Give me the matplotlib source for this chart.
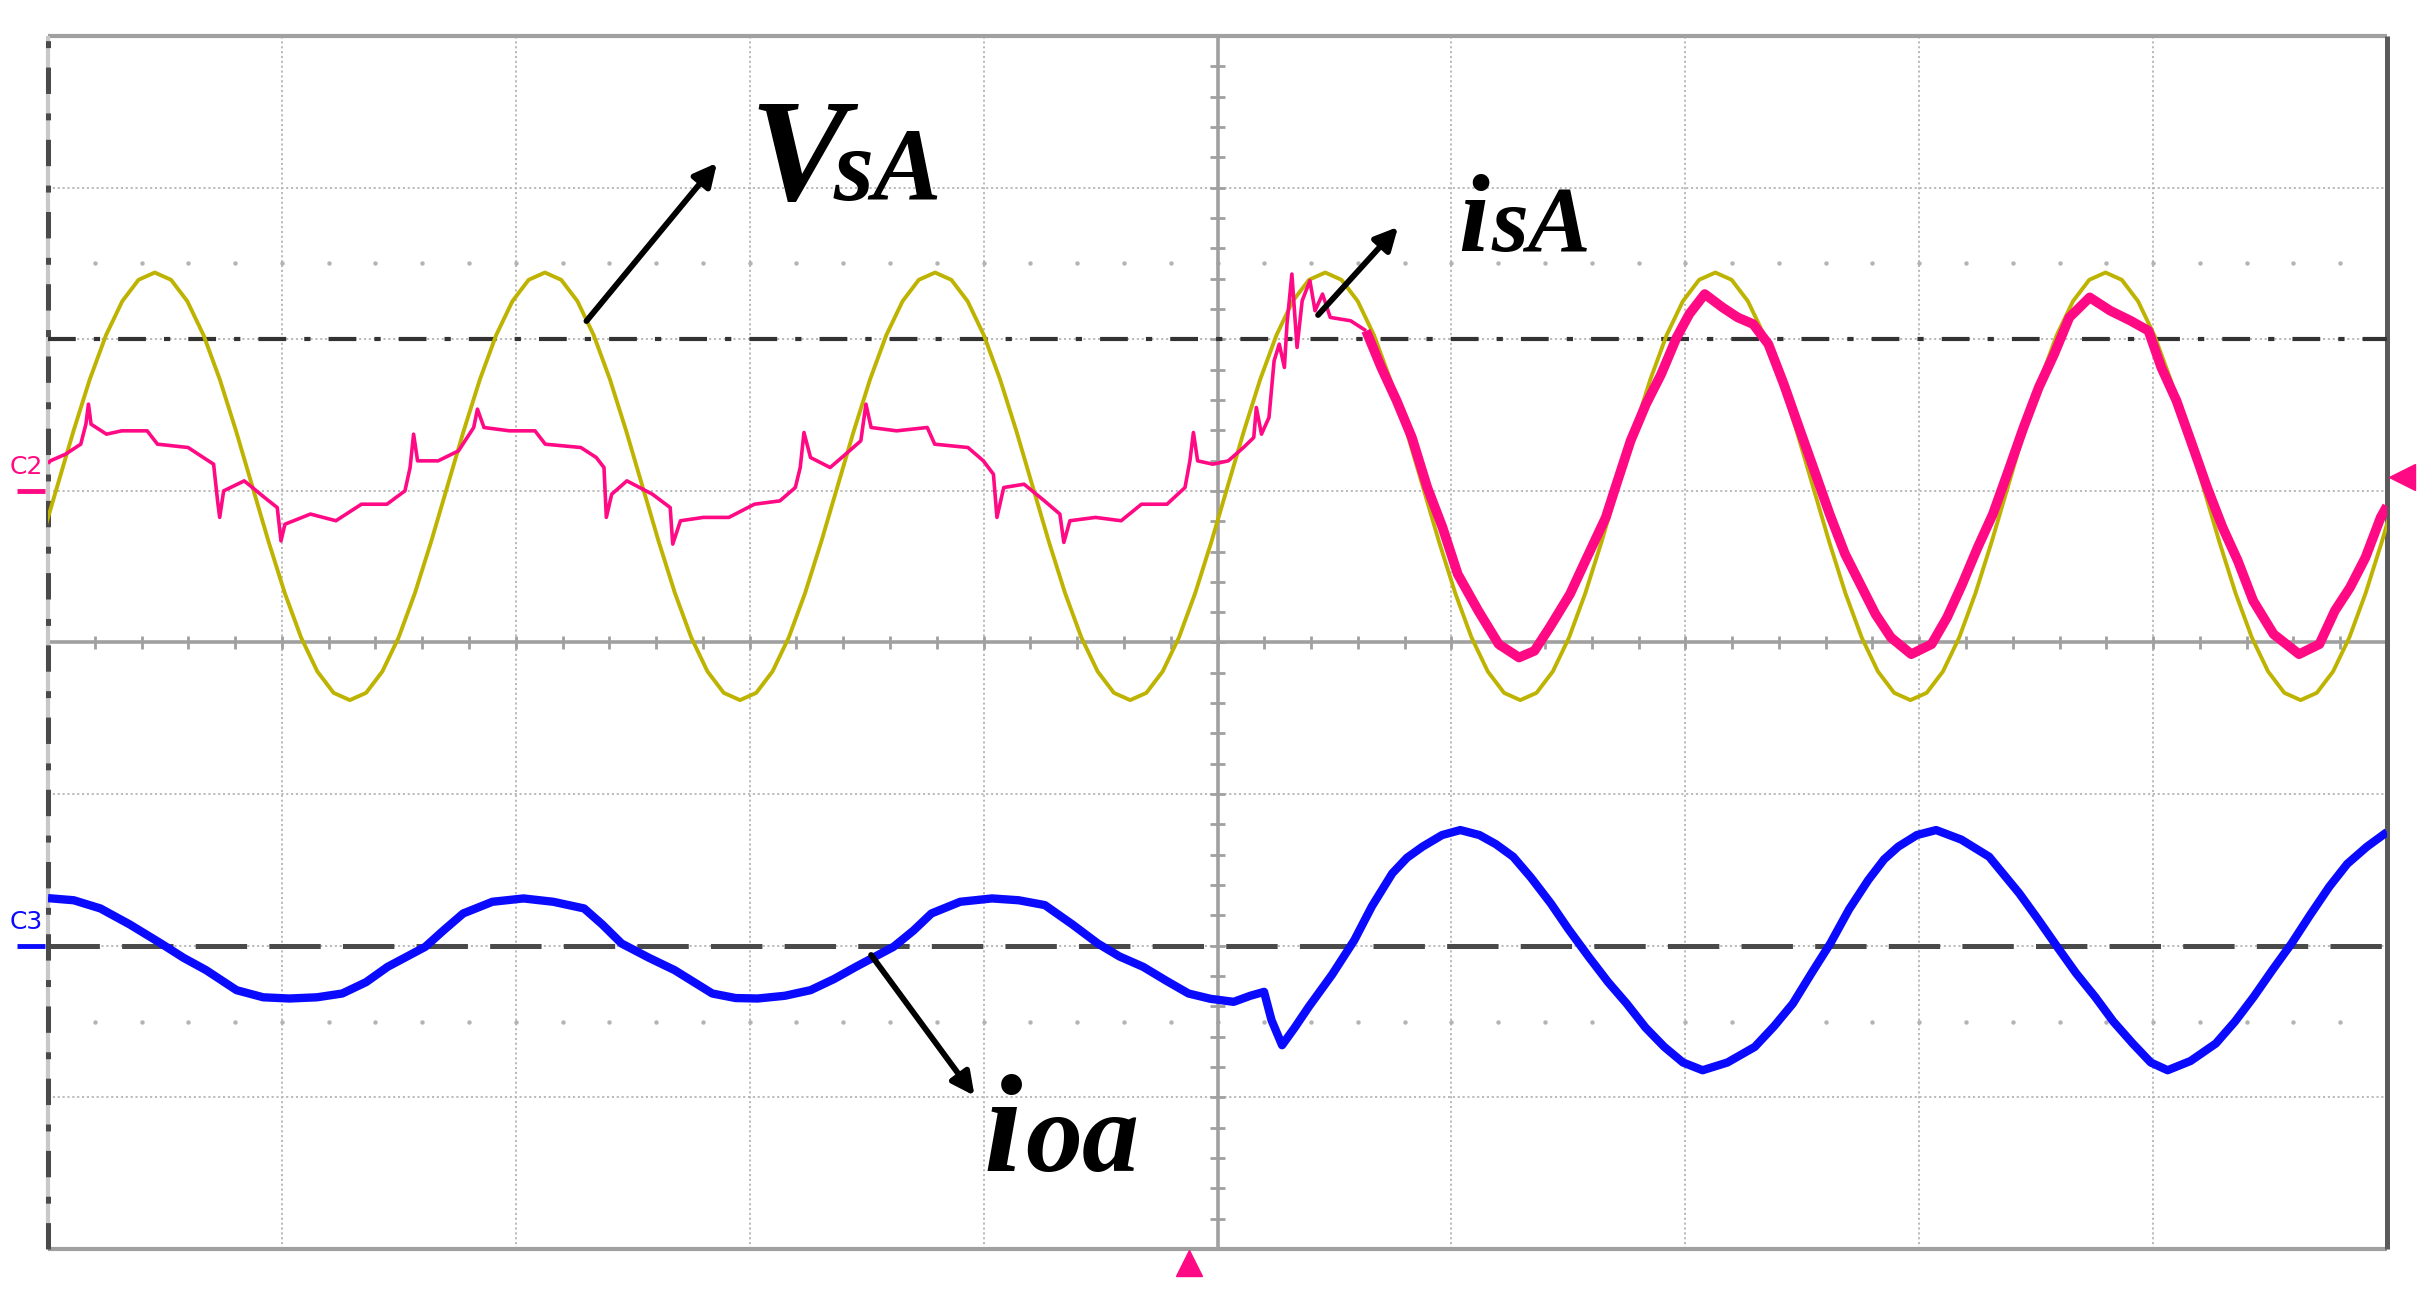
import matplotlib.pyplot as plt
import numpy as np

plt.rcParams["lines.scale_dashes"] = False
plt.rcParams["lines.solid_capstyle"] = "butt"

YELLOW = "#bdb300"
PINK = "#ff0a84"
BLUE = "#0a0aff"
GRID = "#b4b4b4"
AXIS = "#a0a0a0"
DARK = "#4a4a4a"

# screen is 10 x 8 divisions, centre at (5, 0)

# vsA sampled by the scope every VSA_DT div, first sample at VSA_T0
VSA_T0 = -0.03
VSA_DT = 0.0695
VSA = [
    0.665, 1.03, 1.395, 1.735, 2.027, 2.251, 2.392, 2.44, 2.392, 2.251, 2.027, 1.735,
    1.395, 1.03, 0.665, 0.325, 0.033, -0.191, -0.332, -0.38, -0.332, -0.191, 0.033, 0.325,
    0.665, 1.03, 1.395, 1.735, 2.027, 2.251, 2.392, 2.44, 2.392, 2.251, 2.027, 1.735,
    1.395, 1.03, 0.665, 0.325, 0.033, -0.191, -0.332, -0.38, -0.332, -0.191, 0.033, 0.325,
    0.665, 1.03, 1.395, 1.735, 2.027, 2.251, 2.392, 2.44, 2.392, 2.251, 2.027, 1.735,
    1.395, 1.03, 0.665, 0.325, 0.033, -0.191, -0.332, -0.38, -0.332, -0.191, 0.033, 0.325,
    0.665, 1.03, 1.395, 1.735, 2.027, 2.251, 2.392, 2.44, 2.392, 2.251, 2.027, 1.735,
    1.395, 1.03, 0.665, 0.325, 0.033, -0.191, -0.332, -0.38, -0.332, -0.191, 0.033, 0.325,
    0.665, 1.03, 1.395, 1.735, 2.027, 2.251, 2.392, 2.44, 2.392, 2.251, 2.027, 1.735,
    1.395, 1.03, 0.665, 0.325, 0.033, -0.191, -0.332, -0.38, -0.332, -0.191, 0.033, 0.325,
    0.665, 1.03, 1.395, 1.735, 2.027, 2.251, 2.392, 2.44, 2.392, 2.251, 2.027, 1.735,
    1.395, 1.03, 0.665, 0.325, 0.033, -0.191, -0.332, -0.38, -0.332, -0.191, 0.033, 0.325,
    0.665, 1.03,
]

# isA before compensation (thin trace)
ISA_X1 = [0.0, 0.01, 0.075, 0.14, 0.162, 0.173, 0.184, 0.25, 0.315, 0.424,
          0.468, 0.599, 0.664, 0.708, 0.725, 0.734, 0.751, 0.839, 0.926, 0.98,
          0.996, 1.013, 1.122, 1.231, 1.34, 1.449, 1.526, 1.548, 1.563, 1.58,
          1.668, 1.755, 1.82, 1.836, 1.864, 1.973, 2.082, 2.126, 2.278, 2.344,
          2.377, 2.387, 2.41, 2.475, 2.584, 2.66, 2.671, 2.704, 2.802, 2.911,
          3.02, 3.129, 3.195, 3.216, 3.232, 3.26, 3.344, 3.41, 3.475, 3.497,
          3.519, 3.628, 3.759, 3.791, 3.933, 3.999, 4.042, 4.057, 4.086, 4.173,
          4.26, 4.326, 4.343, 4.369, 4.478, 4.588, 4.675, 4.784, 4.861, 4.882,
          4.897, 4.915, 4.98, 5.046, 5.111, 5.155, 5.166, 5.188, 5.22, 5.242,
          5.264, 5.286, 5.297, 5.318, 5.34, 5.362, 5.395, 5.417, 5.449, 5.482,
          5.569, 5.635]
ISA_Y1 = [1.18, 1.198, 1.242, 1.308, 1.44, 1.572, 1.44, 1.374, 1.396, 1.396,
          1.308, 1.286, 1.22, 1.176, 0.934, 0.825, 1.0, 1.066, 0.956, 0.89,
          0.67, 0.78, 0.847, 0.803, 0.912, 0.912, 1.0, 1.154, 1.374, 1.198,
          1.198, 1.264, 1.418, 1.539, 1.418, 1.396, 1.396, 1.308, 1.286, 1.22,
          1.154, 0.825, 0.978, 1.066, 0.978, 0.89, 0.649, 0.803, 0.825, 0.825,
          0.912, 0.934, 1.022, 1.154, 1.385, 1.22, 1.154, 1.242, 1.33, 1.572,
          1.418, 1.396, 1.418, 1.308, 1.286, 1.198, 1.11, 0.825, 1.022, 1.044,
          0.934, 0.847, 0.66, 0.803, 0.825, 0.803, 0.912, 0.912, 1.022, 1.198,
          1.385, 1.198, 1.176, 1.198, 1.286, 1.352, 1.55, 1.374, 1.484, 1.858,
          1.968, 1.814, 2.1, 2.43, 1.946, 2.254, 2.386, 2.188, 2.298, 2.144,
          2.122, 2.056]

# isA after compensation (noisy, thick trace)
ISA_X2 = [5.635, 5.70, 5.766, 5.831, 5.897, 5.962, 6.027, 6.115, 6.202, 6.289,
          6.355, 6.42, 6.507, 6.573, 6.66, 6.701, 6.766, 6.832, 6.897, 6.963,
          7.017, 7.083, 7.159, 7.224, 7.29, 7.355, 7.421, 7.486, 7.552, 7.617,
          7.683, 7.748, 7.813, 7.879, 7.966, 8.053, 8.119, 8.184, 8.25, 8.315,
          8.381, 8.446, 8.511, 8.577, 8.642, 8.729, 8.817, 8.904, 8.98, 9.035,
          9.1, 9.166, 9.231, 9.297, 9.362, 9.428, 9.515, 9.624, 9.711, 9.777,
          9.842, 9.908, 9.973, 10.0]
ISA_Y2 = [2.056, 1.814, 1.594, 1.352, 1.022, 0.759, 0.451, 0.209, -0.011, -0.099,
          -0.055, 0.099, 0.319, 0.539, 0.825, 1.022, 1.33, 1.572, 1.77, 2.012,
          2.166, 2.298, 2.21, 2.144, 2.1, 1.968, 1.704, 1.418, 1.132, 0.847,
          0.583, 0.385, 0.187, 0.033, -0.077, -0.011, 0.165, 0.385, 0.627, 0.847,
          1.132, 1.418, 1.682, 1.902, 2.144, 2.276, 2.188, 2.122, 2.056, 1.814,
          1.594, 1.308, 1.022, 0.759, 0.539, 0.275, 0.055, -0.077, -0.011, 0.209,
          0.363, 0.561, 0.825, 0.9]

# ioa load current
IOA_X = [0.0, 0.11, 0.224, 0.35, 0.483, 0.58, 0.676, 0.806, 0.92, 1.032,
         1.15, 1.258, 1.36, 1.452, 1.613, 1.69, 1.775, 1.90, 2.033, 2.16,
         2.292, 2.37, 2.452, 2.57, 2.679, 2.840, 2.94, 3.034, 3.15, 3.260,
         3.36, 3.454, 3.615, 3.70, 3.777, 3.90, 4.036, 4.15, 4.262, 4.38,
         4.488, 4.58, 4.682, 4.78, 4.876, 4.97, 5.069, 5.14, 5.199, 5.231,
         5.276, 5.33, 5.39, 5.49, 5.585, 5.66, 5.747, 5.81, 5.876, 5.96,
         6.038, 6.12, 6.19, 6.264, 6.34, 6.425, 6.50, 6.587, 6.67, 6.749,
         6.83, 6.910, 6.99, 7.074, 7.18, 7.297, 7.38, 7.46, 7.54, 7.62,
         7.70, 7.782, 7.85, 7.91, 7.99, 8.072, 8.18, 8.299, 8.428, 8.51,
         8.59, 8.67, 8.752, 8.83, 8.913, 8.99, 9.062, 9.16, 9.268, 9.35,
         9.43, 9.51, 9.592, 9.67, 9.753, 9.83, 9.914, 10.0]
IOA_Y = [-1.686, -1.70, -1.754, -1.86, -1.985, -2.08, -2.161, -2.293, -2.34, -2.348,
         -2.34, -2.315, -2.24, -2.139, -2.007, -1.90, -1.787, -1.71, -1.688, -1.71,
         -1.754, -1.86, -1.985, -2.08, -2.161, -2.315, -2.345, -2.348, -2.33, -2.293,
         -2.22, -2.139, -2.007, -1.90, -1.787, -1.71, -1.688, -1.70, -1.732, -1.86,
         -1.985, -2.07, -2.139, -2.23, -2.315, -2.35, -2.37, -2.33, -2.304, -2.491,
         -2.656, -2.54, -2.403, -2.19, -1.963, -1.74, -1.523, -1.42, -1.347, -1.27,
         -1.237, -1.27, -1.33, -1.413, -1.55, -1.721, -1.89, -2.073, -2.24, -2.381,
         -2.54, -2.667, -2.77, -2.821, -2.77, -2.667, -2.53, -2.381, -2.18, -1.985,
         -1.76, -1.567, -1.43, -1.347, -1.27, -1.237, -1.30, -1.413, -1.655, -1.83,
         -2.007, -2.18, -2.337, -2.50, -2.645, -2.77, -2.821, -2.76, -2.645, -2.50,
         -2.337, -2.16, -1.985, -1.80, -1.611, -1.46, -1.347, -1.25]

C2_LEVEL = 1.0
C3_LEVEL = -2.0
REF_LEVEL = 2.0
TRIG_LEVEL = 1.09
TRIG_POS = 4.88

fig = plt.figure(figsize=(24.33, 13.02), dpi=100)
fig.patch.set_facecolor("white")
ax = fig.add_axes([0.01973, 0.04071, 0.96137, 0.93164])
ax.set_xlim(0, 10)
ax.set_ylim(-4, 4)
ax.set_axis_off()

## graticule
for gx in range(1, 10):
    if gx != 5:
        ax.axvline(gx, color=GRID, lw=1.3, dashes=(1.5, 2), zorder=1)
for gy in range(-3, 4):
    if gy != 0:
        ax.axhline(gy, color=GRID, lw=1.3, dashes=(1.5, 2), zorder=1)
minor = np.arange(0.2, 10, 0.2)
for row in (2.5, -2.5):
    ax.plot(minor, np.full(minor.size, row), ls="none", marker="o", ms=2.2,
            color=GRID, zorder=1)
ax.axhline(0, color=AXIS, lw=2.6, zorder=2)
ax.axvline(5, color=AXIS, lw=2.6, zorder=2)
ax.vlines(np.arange(0.2, 10, 0.2), -0.04, 0.04, color=AXIS, lw=2, zorder=2)
ax.hlines(np.arange(-3.8, 4, 0.2), 4.966, 5.034, color=AXIS, lw=2, zorder=2)

# frame
ax.axhline(4, color=AXIS, lw=3, clip_on=False, zorder=2)
ax.axhline(-4, color=AXIS, lw=3, clip_on=False, zorder=2)
ax.axvline(0, color="#c8c8c8", lw=3, clip_on=False, zorder=2)
ax.axvline(0, color=DARK, lw=3.6, dashes=(19, 14, 5, 14), clip_on=False, zorder=2)
ax.axvline(10, color="#5a5a5a", lw=3.6, clip_on=False, zorder=2)

# reference / ground lines
ax.axhline(REF_LEVEL, color="#333333", lw=3, dashes=(20, 13, 4.5, 13), zorder=2)
ax.axhline(C3_LEVEL, color=DARK, lw=3.6, dashes=(37, 16), zorder=2)

## traces
vsa_t = VSA_T0 + VSA_DT * np.arange(len(VSA))
ax.plot(vsa_t, VSA, color=YELLOW, lw=2.8, zorder=4)
ax.plot(ISA_X1, ISA_Y1, color=PINK, lw=2.6, zorder=5)
ax.plot(ISA_X2, ISA_Y2, color=PINK, lw=7, zorder=5, solid_joinstyle="round")
ax.plot(IOA_X, IOA_Y, color=BLUE, lw=6, zorder=5, solid_joinstyle="round")

## channel markers
ax.text(-0.164, C2_LEVEL + 0.157, "C2", color=PINK, fontsize=18, va="center",
        ha="left", clip_on=False)
ax.plot([-0.133, -0.013], [C2_LEVEL, C2_LEVEL], color=PINK, lw=3.5, clip_on=False)
ax.text(-0.164, C3_LEVEL + 0.157, "C3", color=BLUE, fontsize=18, va="center",
        ha="left", clip_on=False)
ax.plot([-0.133, -0.013], [C3_LEVEL, C3_LEVEL], color=BLUE, lw=3.5, clip_on=False)
ax.plot([10.065], [TRIG_LEVEL], marker="<", ms=19, color=PINK, clip_on=False)
ax.plot([TRIG_POS], [-4.09], marker="^", ms=19, color=PINK, clip_on=False)

## labels
lab = dict(family=["Liberation Serif", "DejaVu Serif"], style="italic",
           weight="bold", color="black", va="baseline", ha="left", zorder=8)
arr = dict(arrowstyle="-|>", lw=4.2, color="black", mutation_scale=34,
           shrinkA=0, shrinkB=0)

ax.text(3.0, 2.918, "V", fontsize=106, **lab)
ax.text(3.36, 2.918, "sA", fontsize=74, **lab)
ax.annotate("", xy=(2.86, 3.163), xytext=(2.302, 2.12), arrowprops=arr, zorder=8)

ax.text(6.03, 2.58, "i", fontsize=80, **lab)
ax.text(6.17, 2.58, "sA", fontsize=68, **lab)
ax.annotate("", xy=(5.772, 2.741), xytext=(5.43, 2.16), arrowprops=arr, zorder=8)

ax.text(4.0, -3.487, "i", fontsize=100, **lab)
ax.text(4.18, -3.487, "oa", fontsize=82, **lab)
ax.annotate("", xy=(3.961, -2.989), xytext=(3.519, -2.061), arrowprops=arr, zorder=8)

fig.savefig("out.png", dpi=100, facecolor="white")
